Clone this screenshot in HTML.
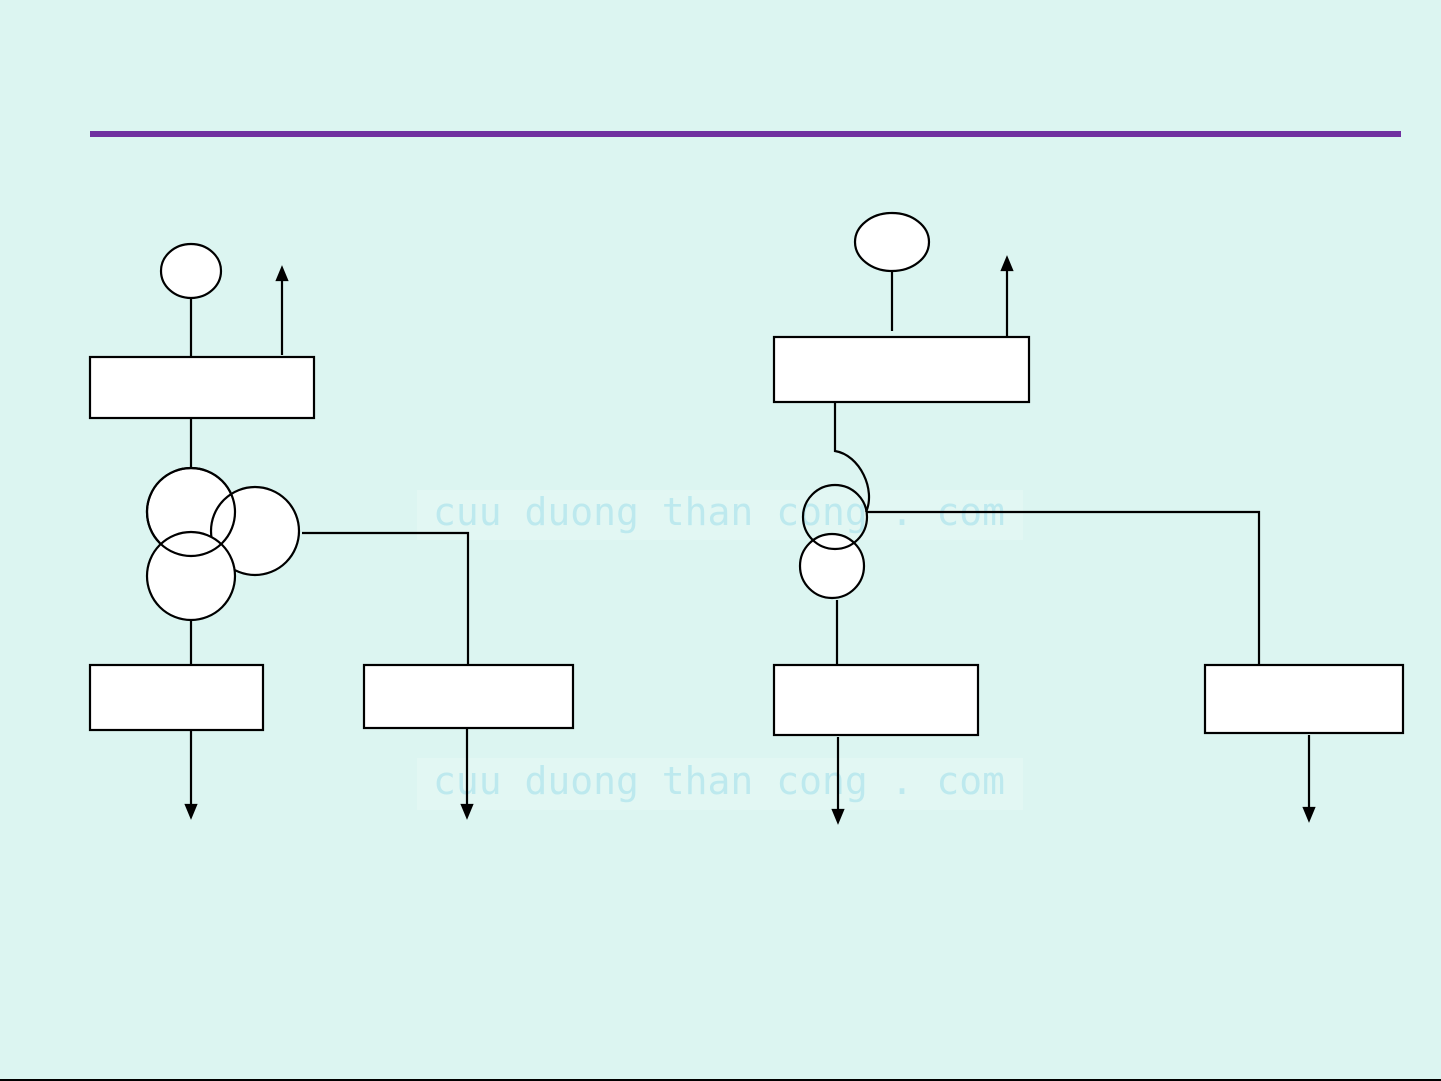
<!DOCTYPE html>
<html><head><meta charset="utf-8"><style>
html,body{margin:0;padding:0;background:#dcf5f1;}
svg{display:block;}
</style></head><body>
<svg width="1441" height="1081" viewBox="0 0 1441 1081" xmlns="http://www.w3.org/2000/svg">
<rect width="1441" height="1081" fill="#dcf5f1"/>
<rect x="90" y="131" width="1311" height="6" fill="#7030a0"/>
<rect x="0" y="1079" width="1441" height="2" fill="#000"/>
<!-- watermarks -->
<rect x="417" y="490" width="606" height="50" fill="#e2f7f3"/>
<rect x="417" y="758" width="606" height="52" fill="#e2f7f3"/>
<g font-family="'DejaVu Sans Mono','Liberation Mono',monospace" font-size="38" fill="#bde9ee">
<text x="433" y="525" textLength="572">cuu duong than cong . com</text>
<text x="433" y="794" textLength="572">cuu duong than cong . com</text>
</g>
<g stroke="#000" stroke-width="2.2" fill="none">
<!-- LEFT -->
<ellipse cx="191" cy="271" rx="30" ry="27" fill="#fff"/>
<line x1="191" y1="298" x2="191" y2="357"/>
<line x1="282" y1="355" x2="282" y2="278"/>
<path d="M277,280 L282,268 L287,280 z" fill="#000"/>
<rect x="90" y="357" width="224" height="61" fill="#fff"/>
<line x1="191" y1="418" x2="191" y2="469"/>
<circle cx="191" cy="512" r="44" fill="#fff"/>
<circle cx="255" cy="531" r="44" fill="#fff"/>
<circle cx="191" cy="576" r="44" fill="#fff"/>
<circle cx="191" cy="512" r="44" fill="none"/>
<path d="M302,533 L468,533 L468,665"/>
<line x1="191" y1="620" x2="191" y2="665"/>
<rect x="90" y="665" width="173" height="65" fill="#fff"/>
<rect x="364" y="665" width="209" height="63" fill="#fff"/>
<line x1="191" y1="730" x2="191" y2="805"/>
<path d="M186,805 L191,817 L196,805 z" fill="#000"/>
<line x1="467" y1="728" x2="467" y2="805"/>
<path d="M462,805 L467,817 L472,805 z" fill="#000"/>
<!-- RIGHT -->
<ellipse cx="892" cy="242" rx="37" ry="29" fill="#fff"/>
<line x1="892" y1="271" x2="892" y2="331"/>
<line x1="1007" y1="336" x2="1007" y2="270"/>
<path d="M1002,270 L1007,258 L1012,270 z" fill="#000"/>
<rect x="774" y="337" width="255" height="65" fill="#fff"/>
<path d="M835,402 L835,451 C860,455 876,490 866,512"/>
<circle cx="832" cy="566" r="32" fill="#fff"/>
<circle cx="835" cy="517" r="32" fill="none"/>
<path d="M867,512 L1259,512 L1259,665"/>
<line x1="837" y1="600" x2="837" y2="665"/>
<rect x="774" y="665" width="204" height="70" fill="#fff"/>
<rect x="1205" y="665" width="198" height="68" fill="#fff"/>
<line x1="838" y1="737" x2="838" y2="810"/>
<path d="M833,810 L838,822 L843,810 z" fill="#000"/>
<line x1="1309" y1="735" x2="1309" y2="808"/>
<path d="M1304,808 L1309,820 L1314,808 z" fill="#000"/>
</g>
</svg>
</body></html>
